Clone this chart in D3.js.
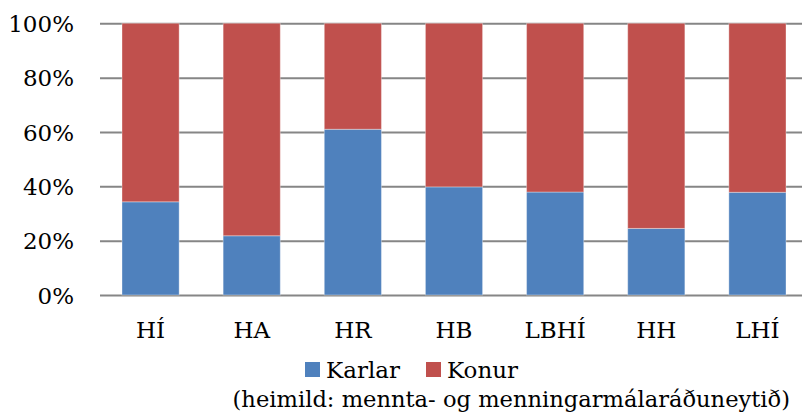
<!DOCTYPE html>
<html>
<head>
<meta charset="utf-8">
<script src="https://cdn.jsdelivr.net/npm/d3@7"></script>
<style>
  html, body { margin: 0; padding: 0; background: #fff; }
  svg { display: block; }
  text { font-family: "DejaVu Serif", serif; fill: #000; }
</style>
</head>
<body>
<script>
// Skipting nemenda eftir kyni í háskólum (hlutfall)
const categories = ["HÍ", "HA", "HR", "HB", "LBHÍ", "HH", "LHÍ"];
const karlar = [34.3, 21.8, 61.0, 39.8, 37.9, 24.5, 37.8];
const konur  = [65.7, 78.2, 39.0, 60.2, 62.1, 75.5, 62.2];
const seriesNames = ["Karlar", "Konur"];
const seriesColors = ["#4F81BD", "#C0504D"];
const yTicks = [0, 20, 40, 60, 80, 100];
const sourceText = "(heimild: mennta- og menningarmálaráðuneytið)";

const W = 802, H = 419;
const plot = { left: 100, right: 808, top: 23.3, bottom: 295 };

const svg = d3.select("body").append("svg")
  .attr("width", W).attr("height", H);

const x = d3.scaleBand()
  .domain(categories)
  .range([plot.left, plot.right])
  .paddingInner(0.435)
  .paddingOuter(0.2175);

const y = d3.scaleLinear()
  .domain([0, 100])
  .range([plot.bottom, plot.top]);

// Gridlines and percentage labels
const yAxis = d3.axisLeft(y)
  .tickValues(yTicks)
  .tickSize(-(plot.right - plot.left))
  .tickFormat(d => d + "%");

const gy = svg.append("g")
  .attr("transform", `translate(${plot.left},0)`)
  .call(yAxis);
gy.select(".domain").remove();
gy.selectAll(".tick line")
  .attr("stroke", "#868686")
  .attr("stroke-width", 2);
gy.selectAll(".tick text")
  .attr("x", -26)
  .attr("dy", "0.36em")
  .style("font-size", "23px")
  .style("font-family", "'DejaVu Serif', serif");

// Stacked bars
const rows = categories.map((c, i) => ({ cat: c, Karlar: karlar[i], Konur: konur[i] }));
const stacked = d3.stack().keys(seriesNames)(rows);

svg.append("g").selectAll("g")
  .data(stacked)
  .join("g")
  .attr("fill", (d, i) => seriesColors[i])
  .selectAll("rect")
  .data(d => d)
  .join("rect")
  .attr("x", d => x(d.data.cat))
  .attr("width", x.bandwidth())
  .attr("y", d => y(d[1]))
  .attr("height", d => y(d[0]) - y(d[1]))
  .attr("stroke", "rgba(255,255,255,0.35)")
  .attr("stroke-width", 1);

// Category labels
const xAxis = d3.axisBottom(x).tickSize(0).tickPadding(0);
const gx = svg.append("g")
  .attr("transform", `translate(0,${plot.bottom})`)
  .call(xAxis);
gx.select(".domain").remove();
gx.selectAll(".tick text")
  .attr("y", 43)
  .attr("dy", 0)
  .style("font-size", "23px")
  .style("font-family", "'DejaVu Serif', serif");

// Legend
const legendItems = [
  { name: seriesNames[0], color: seriesColors[0], x: 305 },
  { name: seriesNames[1], color: seriesColors[1], x: 426 }
];
const lg = svg.append("g");
legendItems.forEach(it => {
  lg.append("rect")
    .attr("x", it.x).attr("y", 362)
    .attr("width", 15).attr("height", 15)
    .attr("fill", it.color);
  lg.append("text")
    .attr("x", it.x + 21).attr("y", 378)
    .style("font-size", "23px")
    .text(it.name);
});

// Source note
svg.append("text")
  .attr("x", 790).attr("y", 407)
  .attr("text-anchor", "end")
  .style("font-size", "22.6px")
  .text(sourceText);
</script>
</body>
</html>
